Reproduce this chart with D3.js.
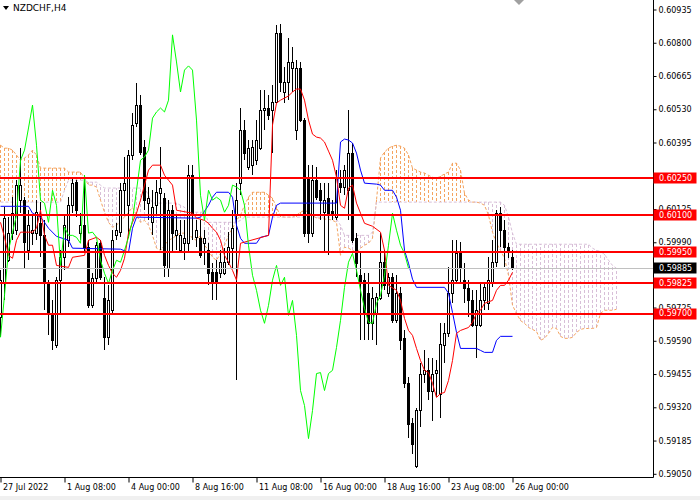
<!DOCTYPE html>
<html><head><meta charset="utf-8">
<script src="https://cdn.jsdelivr.net/npm/d3@7/dist/d3.min.js"></script>
<style>body{margin:0;background:#fff}svg{display:block}</style>
</head><body>
<svg id="c" width="700" height="500"></svg>
<script>
const symbolTitle = "NZDCHF,H4";

const openP = [0.59685,0.59827,0.59917,0.60027,0.60039,0.60161,0.60161,0.59957,0.60027,0.60027,
0.60067,0.60018,0.59823,0.59701,0.59571,0.59836,0.59929,0.59998,0.60140,0.60234,
0.60027,0.60059,0.59970,0.59734,0.59844,0.59986,0.59762,0.59604,0.59714,0.60018,
0.60031,0.60201,0.60140,0.60344,0.60474,0.60547,0.60376,0.60149,0.60071,0.60140,
0.60189,0.60169,0.59884,0.60120,0.60018,0.59957,0.59986,0.59986,0.60262,0.60010,
0.60006,0.59986,0.59957,0.59868,0.59868,0.59864,0.59864,0.59909,0.59966,0.60100,
0.60230,0.60445,0.60295,0.60303,0.60323,0.60372,0.60527,0.60535,0.60527,0.60559,
0.60840,0.60600,0.60641,0.60698,0.60445,0.60698,0.60486,0.60254,0.60027,0.60242,
0.60201,0.60112,0.60169,0.60116,0.60092,0.60230,0.60214,0.60201,0.60352,0.60006,
0.59856,0.59836,0.59783,0.59661,0.59701,0.59762,0.59909,0.59783,0.59848,0.59673,
0.59783,0.59600,0.59417,0.59258,0.59083,0.59307,0.59457,0.59470,0.59388,0.59461,
0.59376,0.59571,0.59620,0.59783,0.59836,0.59945,0.59836,0.59803,0.59754,0.59653,
0.59653,0.59754,0.59742,0.59827,0.59909,0.60108,0.60039,0.59970,0.59929];

const highP = [0.59876,0.60132,0.60092,0.60173,0.60242,0.60372,0.60173,0.60120,0.60100,0.60161,
0.60153,0.60079,0.59836,0.59754,0.59848,0.59957,0.60100,0.60173,0.60250,0.60242,
0.60108,0.60262,0.59998,0.59864,0.59990,0.59998,0.59848,0.59815,0.60039,0.60067,
0.60230,0.60336,0.60364,0.60515,0.60637,0.60588,0.60405,0.60214,0.60201,0.60242,
0.60376,0.60189,0.60161,0.60140,0.60100,0.60079,0.60079,0.60303,0.60303,0.60079,
0.60079,0.60039,0.59986,0.59905,0.59917,0.59957,0.59966,0.60031,0.60120,0.60230,
0.60535,0.60486,0.60405,0.60405,0.60486,0.60608,0.60608,0.60588,0.60628,0.60872,
0.60876,0.60702,0.60819,0.60783,0.60730,0.60722,0.60494,0.60303,0.60303,0.60295,
0.60230,0.60230,0.60230,0.60161,0.60283,0.60283,0.60303,0.60527,0.60393,0.60027,
0.59945,0.59864,0.59864,0.59807,0.59783,0.60027,0.59957,0.59864,0.59864,0.59856,
0.59807,0.59632,0.59441,0.59278,0.59319,0.59498,0.59551,0.59522,0.59522,0.59510,
0.59661,0.59661,0.59888,0.59998,0.59998,0.59990,0.59905,0.59836,0.59795,0.59795,
0.59823,0.59827,0.59929,0.59998,0.60120,0.60132,0.60079,0.59986,0.59957];

const lowP = [0.59604,0.59754,0.59909,0.59998,0.60018,0.60108,0.59884,0.59917,0.59978,0.59998,
0.59929,0.59714,0.59612,0.59551,0.59559,0.59701,0.59876,0.59970,0.60108,0.60092,
0.59998,0.59945,0.59722,0.59722,0.59827,0.59836,0.59551,0.59571,0.59701,0.59998,
0.60010,0.60100,0.60006,0.60323,0.60458,0.60344,0.60120,0.60079,0.60018,0.60100,
0.59957,0.59848,0.59848,0.59945,0.59957,0.59949,0.59917,0.59945,0.59998,0.59970,
0.59925,0.59896,0.59815,0.59754,0.59754,0.59844,0.59856,0.59896,0.59884,0.59429,
0.60181,0.60323,0.60283,0.60262,0.60303,0.60364,0.60445,0.60486,0.60352,0.60555,
0.60600,0.60555,0.60567,0.60600,0.60405,0.60478,0.60010,0.59986,0.60010,0.60161,
0.60079,0.59945,0.59937,0.60079,0.60079,0.60189,0.60181,0.60079,0.59986,0.59848,
0.59592,0.59592,0.59592,0.59592,0.59571,0.59754,0.59795,0.59766,0.59661,0.59661,
0.59551,0.59400,0.59197,0.59132,0.59075,0.59238,0.59417,0.59348,0.59266,0.59360,
0.59278,0.59498,0.59604,0.59742,0.59823,0.59823,0.59742,0.59685,0.59644,0.59522,
0.59644,0.59714,0.59714,0.59807,0.59888,0.59970,0.59888,0.59925,0.59876];

const closeP = [0.59836,0.60088,0.60027,0.60108,0.60222,0.60222,0.59990,0.60059,0.60039,0.60112,
0.60018,0.59823,0.59701,0.59592,0.59836,0.59929,0.60059,0.60140,0.60230,0.60120,
0.60059,0.59970,0.59734,0.59844,0.59978,0.59848,0.59604,0.59754,0.59998,0.60039,
0.60201,0.60230,0.60344,0.60466,0.60547,0.60356,0.60161,0.60169,0.60132,0.60193,
0.60210,0.59896,0.60120,0.60027,0.60039,0.60018,0.60006,0.60262,0.60100,0.60039,
0.59937,0.60006,0.59864,0.59823,0.59823,0.59909,0.59909,0.59970,0.60047,0.60161,
0.60445,0.60352,0.60372,0.60376,0.60405,0.60527,0.60535,0.60506,0.60559,0.60840,
0.60641,0.60641,0.60722,0.60722,0.60698,0.60486,0.60027,0.60027,0.60242,0.60173,
0.60161,0.60161,0.60108,0.60100,0.60250,0.60214,0.60283,0.60352,0.59998,0.59905,
0.59823,0.59701,0.59661,0.59762,0.59766,0.59909,0.59815,0.59848,0.59673,0.59783,
0.59592,0.59417,0.59254,0.59173,0.59307,0.59457,0.59470,0.59388,0.59457,0.59470,
0.59579,0.59620,0.59783,0.59836,0.59945,0.59888,0.59803,0.59754,0.59653,0.59714,
0.59754,0.59807,0.59836,0.59909,0.60108,0.60039,0.59970,0.59957,0.59885];

// Chikou span (green), plotted 26 bars back
const chikou = [0.59604,0.59774,0.59957,0.60031,0.60100,0.60323,0.60364,0.60454,0.60547,0.60384,
0.60161,0.60149,0.60071,0.60201,0.60140,0.59896,0.60051,0.60018,0.60018,0.60010,
0.59986,0.60262,0.60027,0.60031,0.60010,0.59917,0.59864,0.59823,0.59876,0.59917,
0.59909,0.59957,0.60010,0.60079,0.60201,0.60323,0.60336,0.60364,0.60494,0.60519,
0.60535,0.60519,0.60567,0.60832,0.60722,0.60600,0.60689,0.60706,0.60689,0.60486,
0.60181,0.60079,0.60201,0.60161,0.60173,0.60161,0.60112,0.60140,0.60222,0.60214,
0.60201,0.60140,0.59978,0.59856,0.59795,0.59714,0.59661,0.59734,0.59836,0.59896,
0.59815,0.59848,0.59693,0.59754,0.59612,0.59388,0.59327,0.59193,0.59307,0.59457,
0.59461,0.59388,0.59457,0.59470,0.59563,0.59673,0.59807,0.59909,0.59945,0.59876,
0.59795,0.59722,0.59665,0.59661,0.59742,0.59774,0.59856,0.59978,0.60108,0.60039,
0.59978,0.59945,0.59885];

// Tenkan-sen (red) vertices [bar, price]
const tenkan = [[0,0.60071],[1,0.60010],[2,0.59937],[3,0.59925],[4,0.59998],[5,0.60031],[8,0.60031],[9,0.60047],[10,0.60120],[11,0.60018],
[12,0.59978],[13,0.59978],[14,0.59896],[17,0.59888],[18,0.59929],[21,0.59937],[22,0.59998],[24,0.60010],[25,0.59998],[26,0.59937],
[27,0.59896],[28,0.59864],[29,0.59848],[30,0.59876],[31,0.59925],[32,0.60027],[33,0.60071],[34,0.60108],[35,0.60161],[36,0.60222],
[37,0.60283],[38,0.60303],[40,0.60303],[41,0.60262],[42,0.60242],[43,0.60222],[44,0.60120],[48,0.60108],[49,0.60088],[51,0.60079],
[52,0.60067],[53,0.60047],[54,0.60031],[55,0.59998],[56,0.59937],[57,0.59909],[58,0.59876],[59,0.59836],[60,0.59986],[67,0.60018],
[68,0.60466],[69,0.60555],[70,0.60567],[72,0.60584],[73,0.60600],[74,0.60612],[75,0.60612],[76,0.60567],[77,0.60486],[78,0.60429],
[79,0.60417],[80,0.60413],[81,0.60397],[82,0.60360],[83,0.60323],[84,0.60254],[85,0.60140],[86,0.60128],[87,0.60210],[88,0.60222],
[89,0.60149],[90,0.60108],[91,0.60067],[93,0.60055],[95,0.60031],[96,0.59957],[97,0.59815],[99,0.59795],[100,0.59754],[101,0.59681],
[102,0.59632],[103,0.59612],[104,0.59559],[105,0.59510],[106,0.59470],[107,0.59461],[108,0.59417],[109,0.59360],[110,0.59376],[111,0.59380],
[112,0.59429],[113,0.59510],[114,0.59620],[115,0.59632],[117,0.59644],[118,0.59665],[119,0.59701],[120,0.59714],[121,0.59742],[123,0.59754],
[124,0.59795],[125,0.59815],[126,0.59815],[127,0.59836],[128,0.59868]];

// Kijun-sen (blue) vertices [bar, price]
const kijun = [[0,0.60136],[7,0.60136],[8,0.60108],[10,0.60092],[11,0.60071],[12,0.60047],[14,0.60014],[17,0.59998],[18,0.59966],[30,0.59962],
[32,0.59949],[33,0.60047],[34,0.60092],[49,0.60088],[50,0.60092],[51,0.60116],[52,0.60140],[53,0.60173],[54,0.60193],[57,0.60193],
[58,0.60173],[59,0.60059],[60,0.60006],[61,0.59986],[64,0.59986],[65,0.60010],[67,0.60018],[68,0.60092],[69,0.60140],[70,0.60149],
[84,0.60149],[85,0.60397],[86,0.60409],[87,0.60405],[88,0.60393],[89,0.60352],[90,0.60283],[91,0.60230],[94,0.60226],[95,0.60222],
[96,0.60201],[98,0.60201],[99,0.60173],[100,0.60120],[101,0.59957],[102,0.59905],[103,0.59840],[104,0.59807],[111,0.59807],[112,0.59783],
[113,0.59705],[114,0.59624],[115,0.59559],[119,0.59559],[120,0.59551],[121,0.59543],[123,0.59543],[124,0.59592],[125,0.59608],[128,0.59608]];

// Senkou span A (sandy brown) per bar, 0..154
const spanA = [0.60384,0.60372,0.60372,0.60364,0.60344,0.60323,0.60332,0.60344,0.60364,0.60344,
0.60291,0.60291,0.60291,0.60291,0.60291,0.60291,0.60291,0.60275,0.60275,0.60275,
0.60275,0.60250,0.60222,0.60222,0.60214,0.60161,0.60112,0.60071,0.60051,0.60059,
0.60079,0.60092,0.60112,0.60132,0.60100,0.60071,0.60079,0.60059,0.60018,0.59966,
0.59957,0.59978,0.59998,0.60006,0.60018,0.60027,0.60027,0.60027,0.60006,0.59998,
0.60018,0.59978,0.59957,0.59929,0.59917,0.59945,0.59978,0.60018,0.60047,0.60079,
0.60100,0.60140,0.60173,0.60193,0.60193,0.60193,0.60193,0.60181,0.60169,0.60132,
0.60096,0.60092,0.60092,0.60092,0.60100,0.60112,0.60120,0.60112,0.60100,0.60088,
0.60088,0.60084,0.60084,0.60079,0.60071,0.59937,0.59970,0.59966,0.59957,0.59949,
0.59966,0.59978,0.59986,0.60006,0.60161,0.60332,0.60356,0.60372,0.60380,0.60384,
0.60380,0.60372,0.60344,0.60291,0.60283,0.60275,0.60271,0.60262,0.60254,0.60250,
0.60258,0.60267,0.60275,0.60311,0.60311,0.60283,0.60189,0.60161,0.60153,0.60153,
0.60149,0.60140,0.60100,0.60031,0.59986,0.59957,0.59925,0.59856,0.59734,0.59701,
0.59672,0.59661,0.59644,0.59636,0.59628,0.59592,0.59600,0.59620,0.59644,0.59640,
0.59608,0.59600,0.59600,0.59604,0.59624,0.59636,0.59640,0.59640,0.59640,0.59644,
0.59701,0.59714,0.59714,0.59714,0.59718];

// Senkou span B (thistle) per bar, 0..154
const spanB = [0.60153,0.60153,0.60153,0.60153,0.60153,0.60153,0.60153,0.60153,0.60153,0.60153,
0.60153,0.60153,0.60153,0.60153,0.60153,0.60153,0.60201,0.60242,0.60242,0.60242,
0.60242,0.60242,0.60234,0.60234,0.60234,0.60222,0.60210,0.60210,0.60210,0.60210,
0.60210,0.60210,0.60210,0.60210,0.60210,0.60210,0.60210,0.60181,0.60149,0.60149,
0.60149,0.60149,0.60149,0.60149,0.60149,0.60140,0.60132,0.60112,0.60112,0.60112,
0.60112,0.60112,0.60071,0.60071,0.60071,0.60071,0.60071,0.60071,0.60071,0.60071,
0.60079,0.60092,0.60092,0.60092,0.60092,0.60092,0.60092,0.60092,0.60092,0.60092,
0.60092,0.60092,0.60092,0.60092,0.60092,0.60092,0.60092,0.60092,0.60092,0.60092,
0.60092,0.60092,0.60092,0.60092,0.60084,0.60059,0.60018,0.60018,0.60018,0.60018,
0.60018,0.60018,0.60018,0.60031,0.60153,0.60153,0.60153,0.60153,0.60153,0.60153,
0.60153,0.60153,0.60153,0.60153,0.60153,0.60153,0.60153,0.60153,0.60153,0.60153,
0.60153,0.60153,0.60153,0.60153,0.60153,0.60153,0.60153,0.60153,0.60153,0.60153,
0.60153,0.60153,0.60153,0.60153,0.60153,0.60153,0.60140,0.60092,0.60027,0.59982,
0.59982,0.59982,0.59982,0.59982,0.59982,0.59982,0.59982,0.59982,0.59982,0.59982,
0.59982,0.59982,0.59982,0.59982,0.59982,0.59982,0.59982,0.59982,0.59966,0.59957,
0.59953,0.59941,0.59917,0.59896,0.59884];

const levels = [0.60250, 0.60100, 0.59950, 0.59825, 0.59700];
const currentPrice = 0.59885;
const priceTicks = [0.60935,0.60800,0.60665,0.60530,0.60395,0.60125,0.59990,0.59725,0.59590,0.59455,0.59320,0.59185,0.59050];
const timeTickBars = [0,16,32,48,64,80,96,112,128];
const timeLabels = ["27 Jul 2022","1 Aug 08:00","4 Aug 00:00","8 Aug 16:00","11 Aug 08:00","16 Aug 00:00","18 Aug 16:00","23 Aug 08:00","26 Aug 00:00"];

// ---------- drawing ----------
const W = 653, H = 477;
const FONT = "DejaVu Sans";
const svg = d3.select("#c");
const x = d3.scaleLinear().domain([0, 128]).range([0.5, 512.5]);
const y = d3.scaleLinear().domain([0.59050, 0.60935]).range([473.8, 9.5]);

svg.append("rect").attr("width",700).attr("height",500).attr("fill","#fff");
svg.append("rect").attr("x",0).attr("y",496).attr("width",700).attr("height",4).attr("fill","#f0f0f0");

svg.append("defs").append("clipPath").attr("id","pc")
  .append("rect").attr("x",0).attr("y",0).attr("width",W).attr("height",H);
const plot = svg.append("g").attr("clip-path","url(#pc)");

// cloud hatch
const cloudData = spanA.map((a,j)=>({j, a, b: spanB[j]}));
plot.append("g").attr("shape-rendering","crispEdges")
  .selectAll("line").data(cloudData).join("line")
  .attr("x1", d=>x(d.j)).attr("x2", d=>x(d.j))
  .attr("y1", d=>y(d.a)).attr("y2", d=>y(d.b))
  .attr("stroke", d=> d.a >= d.b ? "#f4a460" : "#d8bfd8")
  .attr("stroke-width",1).attr("stroke-dasharray","3,2");

const idxLine = d3.line().x((d,i)=>x(i)).y(d=>y(d));
plot.append("path").datum(spanA).attr("d", idxLine).attr("fill","none")
  .attr("stroke","#f4a460").attr("stroke-width",1).attr("stroke-dasharray","3,2");
plot.append("path").datum(spanB).attr("d", idxLine).attr("fill","none")
  .attr("stroke","#d8bfd8").attr("stroke-width",1).attr("stroke-dasharray","3,2");

// candles
const candles = closeP.map((c,i)=>({i, o: openP[i], h: highP[i], l: lowP[i], c}));
const cg = plot.append("g").attr("shape-rendering","crispEdges");
cg.selectAll("line").data(candles).join("line")
  .attr("x1", d=>x(d.i)).attr("x2", d=>x(d.i))
  .attr("y1", d=>y(Math.max(d.h,d.o,d.c))).attr("y2", d=>y(Math.min(d.l,d.o,d.c)))
  .attr("stroke","#000").attr("stroke-width",1);
cg.selectAll("rect").data(candles).join("rect")
  .attr("x", d=>x(d.i)-1).attr("width",2)
  .attr("y", d=>Math.round(y(Math.max(d.o,d.c)))+0.5)
  .attr("height", d=>Math.max(1, Math.round(y(Math.min(d.o,d.c))) - Math.round(y(Math.max(d.o,d.c)))))
  .attr("fill", d=> d.c >= d.o ? "#fff" : "#000")
  .attr("stroke","#000").attr("stroke-width",1);

// indicator lines
const ptLine = d3.line().x(d=>x(d[0])).y(d=>y(d[1]));
plot.append("path").datum(kijun).attr("d", ptLine).attr("fill","none").attr("stroke","#0000ff").attr("stroke-width",1);
plot.append("path").datum(tenkan).attr("d", ptLine).attr("fill","none").attr("stroke","#ff0000").attr("stroke-width",1);
plot.append("path").datum(chikou).attr("d", idxLine).attr("fill","none").attr("stroke","#00ff00").attr("stroke-width",1);

// current price line
plot.append("line").attr("x1",0).attr("x2",W)
  .attr("y1", Math.round(y(currentPrice))+0.5).attr("y2", Math.round(y(currentPrice))+0.5)
  .attr("stroke","#c0c0c0").attr("stroke-width",1);

// horizontal levels
plot.append("g").selectAll("line").data(levels).join("line")
  .attr("x1",0).attr("x2",W)
  .attr("y1", d=>Math.round(y(d))).attr("y2", d=>Math.round(y(d)))
  .attr("stroke","#ff0000").attr("stroke-width",2);

// axes frame
svg.append("line").attr("x1",0).attr("x2",W+0.5).attr("y1",H+0.5).attr("y2",H+0.5).attr("stroke","#000");
svg.append("line").attr("x1",W+0.5).attr("x2",W+0.5).attr("y1",0).attr("y2",H+0.5).attr("stroke","#000");

// price axis
const ya = svg.append("g").attr("transform",`translate(${W+0.5},0)`)
  .call(d3.axisRight(y).tickValues(priceTicks).tickFormat(d3.format(".5f")).tickSize(3).tickPadding(2));
ya.select(".domain").remove();
ya.attr("font-family",FONT).attr("font-size",8);
ya.selectAll("line").attr("stroke","#000");
ya.selectAll("text").attr("fill","#000");

// time axis
const xa = svg.append("g").attr("transform",`translate(0,${H+0.5})`)
  .call(d3.axisBottom(x).tickValues(timeTickBars).tickFormat((d,i)=>timeLabels[i]).tickSize(5));
xa.select(".domain").remove();
xa.attr("font-family",FONT).attr("font-size",8);
xa.selectAll("line").attr("stroke","#000");
xa.selectAll("text").attr("text-anchor","start").attr("x",2).attr("y",7).attr("fill","#000");

// level price tags
const tags = svg.append("g").attr("font-family",FONT).attr("font-size",8);
const tagData = levels.map(v=>({v, bg:"#ff0000"})).concat([{v: currentPrice, bg:"#000"}]);
tags.selectAll("rect").data(tagData).join("rect")
  .attr("x", W+0.5).attr("y", d=>Math.round(y(d.v))-5.5).attr("width",43).attr("height",11)
  .attr("fill", d=>d.bg);
tags.selectAll("text").data(tagData).join("text")
  .attr("x", W+6).attr("y", d=>y(d.v)).attr("dy","0.34em")
  .attr("fill","#fff").text(d=>d3.format(".5f")(d.v));

// title
svg.append("path").attr("d","M3,6 L9,6 L6,10 Z").attr("fill","#000");
svg.append("text").attr("x",13).attr("y",11).attr("font-family",FONT).attr("font-size",9)
  .attr("fill","#000").text(symbolTitle);

// chart shift marker
svg.append("path").attr("d","M514,0 L524,0 L519,5 Z").attr("fill","#a0a0a0");
</script>
</body></html>
